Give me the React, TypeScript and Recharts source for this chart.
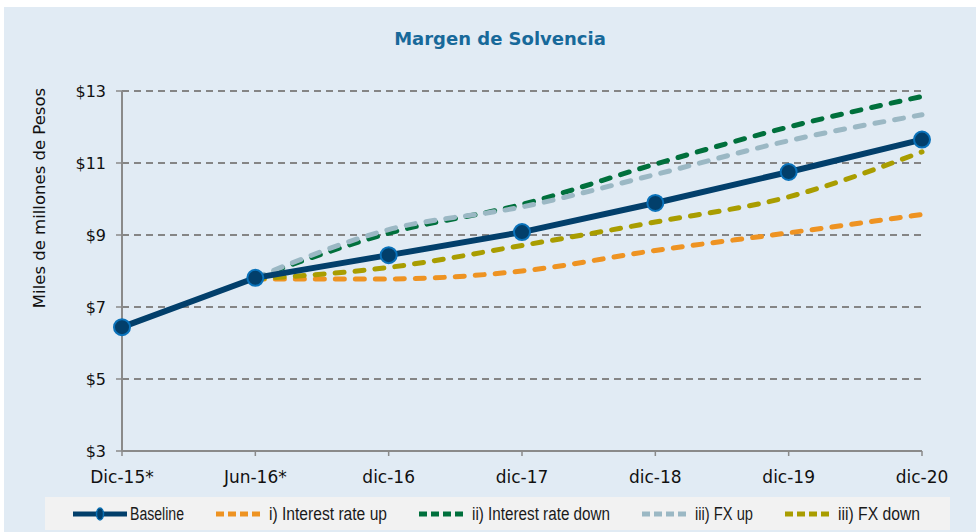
import { LineChart, Line, XAxis, YAxis, CartesianGrid, Label } from "recharts";

const categories = ["Dic-15*", "Jun-16*", "dic-16", "dic-17", "dic-18", "dic-19", "dic-20"];
const baseline = [6.44, 7.81, 8.44, 9.08, 9.89, 10.75, 11.65];
const rateUp = [null, 7.78, 7.78, 8.0, 8.57, 9.06, 9.57];
const rateDown = [null, 7.81, 9.05, 9.85, 10.97, 12.0, 12.85];
const fxUp = [null, 7.81, 9.15, 9.78, 10.68, 11.62, 12.34];
const fxDown = [null, 7.78, 8.1, 8.71, 9.36, 10.06, 11.31];
const yTicks = [3, 5, 7, 9, 11, 13];

const data = categories.map((c, i) => ({
  cat: c,
  baseline: baseline[i],
  rateUp: rateUp[i],
  rateDown: rateDown[i],
  fxUp: fxUp[i],
  fxDown: fxDown[i],
}));

const NAVY = "#023f6b";
const dashed = [
  { key: "rateUp", name: "i) Interest rate up", color: "#ee9322", w: 118 },
  { key: "rateDown", name: "ii) Interest rate down", color: "#00703c", w: 138 },
  { key: "fxUp", name: "iii) FX up", color: "#9bb8c4", w: 58 },
  { key: "fxDown", name: "iii) FX down", color: "#a99d00", w: 82 },
];

const font = "'DejaVu Sans', Verdana, sans-serif";
const legendFont = "'Liberation Sans', Arial, sans-serif";

// legend text squeezed to look like the narrow font of the original
const NarrowText = ({ text, w }: { text: string; w: number }) => (
  <svg width={w + 2} height={28} style={{ display: "block", overflow: "visible" }}>
    <text
      x={0}
      y={20}
      textLength={w}
      lengthAdjust="spacingAndGlyphs"
      fontFamily={legendFont}
      fontSize={18}
      fill="#1a1a1a"
    >
      {text}
    </text>
  </svg>
);

const DashIcon = ({ color }: { color: string }) => (
  <svg width={48} height={12} style={{ display: "block" }}>
    <line x1={2} y1={6} x2={46} y2={6} stroke={color} strokeWidth={5} strokeDasharray="8 4" />
  </svg>
);

const BaseIcon = () => (
  <svg width={54} height={16} style={{ display: "block" }}>
    <line x1={0} y1={8} x2={54} y2={8} stroke={NAVY} strokeWidth={5} />
    <ellipse cx={27} cy={8} rx={3.5} ry={6} fill={NAVY} stroke="#0a6fb3" strokeWidth={1.5} />
  </svg>
);

export default function App() {
  return (
    <div style={{ position: "absolute", left: 0, top: 0, width: 976, height: 532, background: "#fff" }}>
      <div style={{ position: "absolute", left: 4, top: 7, width: 972, height: 525, background: "#e1ebf4" }}>
        <div
          style={{
            position: "absolute",
            left: 0,
            width: 992,
            top: 21,
            textAlign: "center",
            fontFamily: font,
            fontWeight: "bold",
            fontSize: 18,
            color: "#17699a",
          }}
        >
          Margen de Solvencia
        </div>
        <LineChart width={972} height={525} data={data} margin={{ top: 84, right: 54, left: 58, bottom: 51 }}>
          <CartesianGrid vertical={false} stroke="#858585" strokeWidth={2} strokeDasharray="7 5" />
          <XAxis
            dataKey="cat"
            height={30}
            axisLine={{ stroke: "#8a8a8a", strokeWidth: 2 }}
            tickLine={{ stroke: "#8a8a8a", strokeWidth: 1.5 }}
            tickSize={5}
            tickMargin={15}
            tick={{ fill: "#111", fontSize: 17, fontFamily: font }}
            interval={0}
          />
          <YAxis
            width={60}
            domain={[3, 13]}
            ticks={yTicks}
            tickFormatter={(v) => `$${v}`}
            axisLine={{ stroke: "#8a8a8a", strokeWidth: 2 }}
            tickLine={{ stroke: "#8a8a8a", strokeWidth: 1.5 }}
            tickSize={6}
            tickMargin={10}
            tick={{ fill: "#111", fontSize: 16, fontFamily: font }}
          >
            <Label
              content={() => (
                <text
                  x={35}
                  y={191}
                  transform="rotate(-90 35 191)"
                  textAnchor="middle"
                  dominantBaseline="central"
                  fontSize={16.5}
                  fontFamily={font}
                  fill="#111"
                >
                  Miles de millones de Pesos
                </text>
              )}
            />
          </YAxis>
          {dashed.map((s) => (
            <Line
              key={s.key}
              type="monotone"
              dataKey={s.key}
              name={s.name}
              stroke={s.color}
              strokeWidth={5}
              strokeDasharray="9 11"
              strokeLinecap="round"
              dot={false}
              activeDot={false}
              isAnimationActive={false}
            />
          ))}
          <Line
            type="linear"
            dataKey="baseline"
            name="Baseline"
            stroke={NAVY}
            strokeWidth={6}
            dot={{ r: 8, fill: NAVY, stroke: "#0a72ba", strokeWidth: 2 }}
            activeDot={false}
            isAnimationActive={false}
          />
        </LineChart>
        <div
          style={{
            position: "absolute",
            left: 41,
            top: 490,
            width: 905,
            height: 33,
            background: "#f2f2f2",
            display: "flex",
            alignItems: "center",
            justifyContent: "center",
            gap: 28,
          }}
        >
          <div style={{ display: "flex", alignItems: "center", gap: 3 }}>
            <BaseIcon />
            <NarrowText text="Baseline" w={54} />
          </div>
          {dashed.map((s) => (
            <div key={s.key} style={{ display: "flex", alignItems: "center", gap: 7 }}>
              <DashIcon color={s.color} />
              <NarrowText text={s.name} w={s.w} />
            </div>
          ))}
        </div>
      </div>
    </div>
  );
}
